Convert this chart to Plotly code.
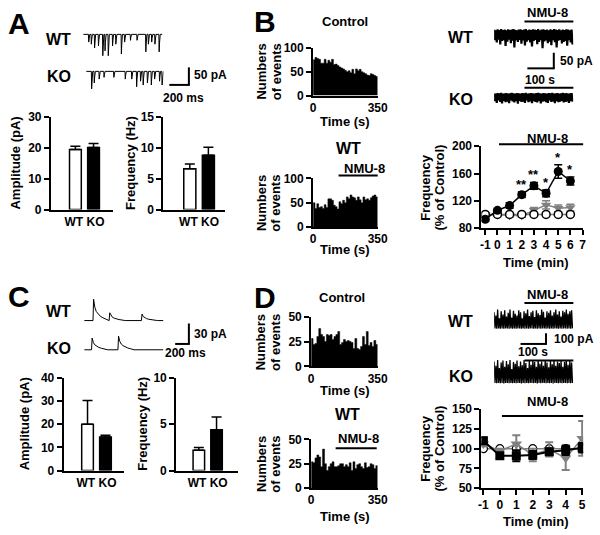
import plotly.graph_objects as go

W, H = 600, 535
FAM = "Liberation Sans, Arial, sans-serif"

# ---------------- data ----------------
bar_cats = ["WT", "KO"]
A_amp = [19.5, 20.1]
A_amp_err = [1.0, 1.3]
A_freq = [6.6, 8.8]
A_freq_err = [0.8, 1.3]
C_amp = [20.0, 14.5]
C_amp_err = [10.3, 0.8]
C_freq = [2.2, 4.4]
C_freq_err = [0.3, 1.4]

hist_t = [5, 15, 25, 35, 45, 55, 65, 75, 85, 95, 105, 115, 125, 135, 145, 155, 165, 175,
          185, 195, 205, 215, 225, 235, 245, 255, 265, 275, 285, 295, 305, 315, 325, 335, 345]
B_ctrl_hist = [75, 80, 78, 76, 68, 68, 76, 68, 74, 70, 76, 65, 66, 63, 60, 58, 56, 53, 50, 52,
               48, 55, 46, 56, 52, 55, 50, 48, 46, 43, 42, 46, 44, 42, 40]
B_wt_hist = [50, 38, 48, 40, 42, 38, 46, 40, 58, 58, 55, 45, 42, 37, 52, 48, 55, 50, 62, 58,
             66, 62, 60, 55, 62, 56, 50, 62, 56, 58, 55, 60, 64, 66, 62]
D_ctrl_hist = [28, 22, 23, 30, 38, 32, 30, 25, 32, 31, 32, 27, 30, 32, 35, 22, 24, 27, 25, 26,
               25, 24, 18, 28, 18, 17, 20, 30, 22, 35, 21, 24, 20, 26, 22]
D_wt_hist = [27, 26, 31, 34, 32, 22, 40, 25, 18, 22, 25, 27, 22, 22, 23, 25, 25, 22, 24, 22,
             26, 18, 27, 20, 24, 25, 22, 20, 26, 21, 22, 25, 24, 20, 23]

B_min = [-1, 0, 1, 2, 3, 4, 5, 6]
B_wt_nmu = [93, 106, 113, 129, 142, 131, 163, 149]
B_wt_nmu_err = [3, 2, 4, 4, 5, 5, 10, 6]
B_ctrl = [100, 100, 100, 100, 100, 100, 100, 100]
B_ko_nmu = [100, 99, 98, 98, 106, 114, 109, 110]
B_ko_nmu_err = [2, 2, 2, 2, 4, 6, 5, 5]
B_stars = ["", "", "", "**", "**", "*", "*", "*"]
B_xticks = [-1, 0, 1, 2, 3, 4, 5, 6, 7]

D_min = [-1, 0, 1, 2, 3, 4, 5]
D_wt_nmu = [110, 91, 91, 92, 96, 98, 101]
D_wt_nmu_err = [4, 3, 7, 5, 4, 6, 6]
D_ko_nmu = [106, 97, 106, 92, 99, 88, 113]
D_ko_nmu_err = [3, 3, 11, 8, 9, 15, 22]
D_ctrl = [100, 100, 100, 100, 100, 100, 100]
D_xticks = [-1, 0, 1, 2, 3, 4, 5]

# sample traces: event times (ms) and amplitudes (pA)
A_wt_ev_t = [53, 80, 113, 153, 197, 220, 253, 297, 330, 387, 420, 480, 547, 637, 663, 697, 730, 773]
A_wt_ev_a = [22, 28, 39, 33, 61, 47, 61, 33, 28, 56, 22, 17, 17, 50, 28, 22, 28, 50]
A_ko_ev_t = [53, 80, 130, 180, 280, 397, 463, 513, 553, 580, 623, 663, 697, 747, 773]
A_ko_ev_a = [50, 33, 22, 17, 17, 22, 22, 44, 28, 39, 33, 39, 22, 28, 39]
C_wt_ev_t = [120, 340, 780]
C_wt_ev_a = [33, 12, 10]
C_ko_ev_t = [100, 460]
C_ko_ev_a = [18, 21]
epsc_kernel = [0, 1.0, 0.62, 0.42, 0.3, 0.2, 0.13, 0.07, 0.0]
epsc_kernel_t = [0, 8, 25, 45, 70, 100, 135, 175, 220]

B_wt_lo = [-30, -38, -28, -45, -33, -30, -50, -35, -28, -40, -32, -55, -30, -36, -29, -42, -31, -48,
           -35, -30, -38, -52, -33, -29, -44, -36, -30, -58, -34, -31, -40, -35, -47, -30, -37, -55,
           -32, -29, -41, -36, -33, -49, -30, -38, -45]
B_wt_hi = [6, 4, 7, 5, 8, 5, 6, 4, 7, 5, 6, 8, 5, 4, 6, 7, 5, 6, 8, 4, 6, 5, 7, 6, 5, 8, 4, 6, 7, 5,
           6, 4, 7, 5, 8, 6, 5, 7, 4, 6, 5, 7, 6, 4, 6]
B_ko_lo = [-22, -28, -20, -25, -30, -21, -26, -24, -29, -20, -23, -27, -22, -31, -21, -25, -24, -28,
           -20, -26, -23, -29, -22, -25, -27, -21, -30, -24, -22, -26, -28, -20, -25, -23, -29, -22,
           -26, -24, -21, -27, -25, -23, -28, -22, -24]
B_ko_hi = [4, 3, 5, 4, 6, 3, 4, 5, 3, 4, 6, 4, 3, 5, 4, 3, 5, 4, 6, 3, 4, 5, 4, 3, 5, 6, 4, 3, 5, 4,
           3, 5, 4, 6, 3, 4, 5, 3, 4, 6, 4, 5, 3, 4, 5]
D_wt_hi = [150, 120, 175, 95, 160, 130, 170, 110, 145, 175, 100, 165, 135, 120, 170, 150, 95, 160,
           140, 175, 115, 150, 165, 105, 170, 140, 125, 175, 155, 100, 160, 145, 170, 120, 150, 175,
           130, 160, 110, 165, 150, 175, 135, 160, 170]
D_wt_lo = [0, -3, 0, -2, 0, -4, 0, -1, -3, 0, -2, 0, -3, 0, -1, -4, 0, -2, 0, -3, 0, -1, -2, 0, -4,
           0, -2, 0, -1, -3, 0, -2, 0, -4, 0, -1, -3, 0, -2, 0, -1, -3, 0, -2, 0]
D_ko_hi = [200, 160, 215, 140, 190, 210, 150, 205, 175, 215, 130, 195, 180, 210, 155, 200, 165, 215,
           185, 140, 205, 170, 210, 195, 150, 215, 180, 200, 160, 210, 190, 145, 205, 175, 215, 160,
           200, 185, 210, 150, 195, 215, 170, 205, 190]
D_ko_lo = [0, -3, 0, -2, 0, -4, 0, -1, -3, 0, -2, 0, -3, 0, -1, -4, 0, -2, 0, -3, 0, -1, -2, 0, -4,
           0, -2, 0, -1, -3, 0, -2, 0, -4, 0, -1, -3, 0, -2, 0, -1, -3, 0, -2, 0]

GRAY = "#808080"


def xdom(a, b):
    return [a / W, b / W]


def ydom(top, bot):
    return [1 - bot / H, 1 - top / H]


def px(x):
    return x / W


def py(y):
    return 1 - y / H


fig = go.Figure()
layout = {}


def axkey(n, k):
    return f"{k}axis" if n == 1 else f"{k}axis{n}"


def ref(n, k):
    return k if n == 1 else f"{k}{n}"


TF = dict(family=FAM, size=12, color="black", weight="bold")


def set_axes(n, xd, yd, xkw, ykw):
    layout[axkey(n, "x")] = dict(domain=xd, anchor=ref(n, "y"), **xkw)
    layout[axkey(n, "y")] = dict(domain=yd, anchor=ref(n, "x"), **ykw)


def yax(rng, tv):
    return dict(range=rng, tickvals=tv, showline=True, linecolor="black", linewidth=2,
                ticks="outside", ticklen=5, tickwidth=2, tickcolor="black", showgrid=False,
                zeroline=False, tickfont=TF, tickangle=0, fixedrange=True)


def hidden(rng):
    return dict(range=rng, visible=False, showgrid=False, zeroline=False, fixedrange=True)


def bar_panel(n, xd, yd, xr, yr, ytv, vals, errs):
    xkw = dict(range=xr, tickvals=[0.5], ticktext=[" ".join(bar_cats)], showline=True, linecolor="black",
               linewidth=2, ticks="", showgrid=False, zeroline=False, tickfont=TF, tickangle=0,
               fixedrange=True)
    set_axes(n, xd, yd, xkw, yax(yr, ytv))
    for i, col in enumerate(["white", "black"]):
        fig.add_trace(go.Bar(x=[i], y=[vals[i]], width=0.65,
                             marker=dict(color=col, line=dict(color="black", width=1.5)),
                             error_y=dict(type="data", symmetric=False, array=[errs[i]], arrayminus=[0],
                                          color="black", thickness=1.5, width=5),
                             xaxis=ref(n, "x"), yaxis=ref(n, "y")))


def hist_panel(n, xd, yd, yr, ytv, vals):
    xkw = dict(range=[0, 350], tickvals=[0, 350], showline=True, linecolor="black", linewidth=2,
               ticks="", showgrid=False, zeroline=False, tickfont=TF, tickangle=0, fixedrange=True)
    set_axes(n, xd, yd, xkw, yax(yr, ytv))
    edges = [t - 5 for t in hist_t] + [hist_t[-1] + 5]
    fig.add_trace(go.Scatter(x=edges, y=list(vals) + [vals[-1]], mode="lines", line_shape="hv",
                             line=dict(color="black", width=0.5), fill="tozeroy", fillcolor="black",
                             xaxis=ref(n, "x"), yaxis=ref(n, "y")))


def event_trace(n, xd, yd, xr, yr, ev_t, ev_a, sign, kernel_t, kernel):
    set_axes(n, xd, yd, hidden(xr), hidden(yr))
    xs, ys = [xr[0]], [0]
    for t, a in zip(ev_t, ev_a):
        for kt, kv in zip(kernel_t, kernel):
            xs.append(t + kt)
            ys.append(sign * a * kv)
    xs.append(xr[1])
    ys.append(0)
    fig.add_trace(go.Scatter(x=xs, y=ys, mode="lines", line=dict(color="black", width=1),
                             xaxis=ref(n, "x"), yaxis=ref(n, "y")))


def dense_trace(n, xd, yd, yr, hi, lo, lw):
    set_axes(n, xd, yd, hidden([0, len(hi)]), hidden(yr))
    xs, ys = [], []
    for i, (h, l) in enumerate(zip(hi, lo)):
        xs += [i, i + 0.5]
        ys += [h, l]
    fig.add_trace(go.Scatter(x=xs, y=ys, mode="lines", line=dict(color="black", width=lw),
                             xaxis=ref(n, "x"), yaxis=ref(n, "y")))


def line_panel(n, xd, yd, xr, xtv, yr, ytv):
    xkw = dict(range=xr, tickvals=xtv, ticktext=[str(v) for v in xtv], showline=True,
               linecolor="black", linewidth=2, ticks="outside", ticklen=5, tickwidth=2,
               tickcolor="black", showgrid=False, zeroline=False, tickfont=TF, tickangle=0,
               fixedrange=True)
    set_axes(n, xd, yd, xkw, yax(yr, ytv))


# ---- Panel A ----
bar_panel(1, xdom(49, 112), ydom(113, 208), [-1.35, 2.05], [0, 30], [0, 10, 20, 30], A_amp, A_amp_err)
bar_panel(2, xdom(164, 227), ydom(113, 208), [-1.42, 1.9], [0, 15], [0, 5, 10, 15], A_freq, A_freq_err)
# ---- Panel B histograms ----
hist_panel(3, xdom(317, 383), ydom(42, 91), [0, 100], [0, 50, 100], B_ctrl_hist)
hist_panel(4, xdom(317, 383), ydom(176, 226), [0, 100], [0, 50, 100], B_wt_hist)
# ---- Panel B line ----
line_panel(5, xdom(489, 593), ydom(143, 227), [-1.32, 7.05], B_xticks, [80, 200], [80, 120, 160, 200])
fig.add_trace(go.Scatter(x=B_min, y=B_ko_nmu, mode="lines+markers", line=dict(color=GRAY, width=1.5),
                         marker=dict(symbol="triangle-down", size=9, color=GRAY),
                         error_y=dict(type="data", array=B_ko_nmu_err, color=GRAY, thickness=1.5, width=4),
                         xaxis="x5", yaxis="y5"))
fig.add_trace(go.Scatter(x=B_min, y=B_ctrl, mode="lines+markers", line=dict(color=GRAY, width=1.5),
                         marker=dict(symbol="circle", size=8, color="white", line=dict(color="black", width=1.5)),
                         xaxis="x5", yaxis="y5"))
fig.add_trace(go.Scatter(x=B_min, y=B_wt_nmu, mode="lines+markers", line=dict(color="black", width=1.5),
                         marker=dict(symbol="circle", size=9, color="black"),
                         error_y=dict(type="data", array=B_wt_nmu_err, color="black", thickness=1.5, width=4),
                         xaxis="x5", yaxis="y5"))
# ---- Panel C ----
bar_panel(6, xdom(62, 124), ydom(381, 476), [-1.33, 2.05], [0, 40], [0, 10, 20, 30, 40], C_amp, C_amp_err)
bar_panel(7, xdom(177, 240), ydom(381, 476), [-1.28, 2.2], [0, 10], [0, 5, 10], C_freq, C_freq_err)
# ---- Panel D histograms ----
hist_panel(8, xdom(315, 383), ydom(318, 369), [0, 50], [0, 25, 50], D_ctrl_hist)
hist_panel(9, xdom(315, 383), ydom(444, 494), [0, 50], [0, 25, 50], D_wt_hist)
# ---- Panel D line ----
line_panel(10, xdom(489, 593), ydom(413, 494), [-1.12, 5.06], D_xticks, [50, 150], [50, 75, 100, 125, 150])
fig.add_trace(go.Scatter(x=D_min, y=D_ctrl, mode="lines+markers", line=dict(color=GRAY, width=1.5),
                         marker=dict(symbol="circle", size=8, color="white", line=dict(color="black", width=1.2)),
                         xaxis="x10", yaxis="y10"))
fig.add_trace(go.Scatter(x=D_min, y=D_ko_nmu, mode="lines+markers", line=dict(color=GRAY, width=1.5),
                         marker=dict(symbol="triangle-down", size=10, color=GRAY),
                         error_y=dict(type="data", array=D_ko_nmu_err, color=GRAY, thickness=2, width=4),
                         xaxis="x10", yaxis="y10"))
fig.add_trace(go.Scatter(x=D_min, y=D_wt_nmu, mode="lines+markers", line=dict(color="black", width=2),
                         marker=dict(symbol="square", size=9, color="black"),
                         error_y=dict(type="data", array=D_wt_nmu_err, color="black", thickness=2, width=4),
                         xaxis="x10", yaxis="y10"))

# ---- sample traces ----
spike_k = [0, 1.0, 0.5, 0.0]
spike_kt = [0, 3, 7, 14]
event_trace(11, xdom(82, 163), ydom(22, 54), [0, 810], [-72, 17], A_wt_ev_t, A_wt_ev_a, -1, spike_kt, spike_k)
event_trace(12, xdom(85, 164), ydom(60, 92), [0, 790], [-72, 17], A_ko_ev_t, A_ko_ev_a, -1, spike_kt, spike_k)
event_trace(13, xdom(83, 164), ydom(294, 326), [0, 1080], [-6, 42], C_wt_ev_t, C_wt_ev_a, 1, epsc_kernel_t, epsc_kernel)
event_trace(14, xdom(83, 164), ydom(333, 357), [0, 1080], [-7.5, 28.5], C_ko_ev_t, C_ko_ev_a, 1, epsc_kernel_t, epsc_kernel)
dense_trace(15, xdom(502, 583), ydom(20, 46), [-70, 17], B_wt_hi, B_wt_lo, 2.2)
dense_trace(16, xdom(502, 583), ydom(86, 102), [-40, 13], B_ko_hi, B_ko_lo, 2.2)
dense_trace(17, xdom(502, 583), ydom(308, 332), [-18, 200], D_wt_hi, D_wt_lo, 1.3)
dense_trace(18, xdom(502, 583), ydom(358, 388), [-18, 255], D_ko_hi, D_ko_lo, 1.3)

# ---- annotations ----
ann = []


def txt(x, y, s, size=13, xanchor="center", yanchor="middle", angle=0):
    ann.append(dict(x=px(x), y=py(y), xref="paper", yref="paper", text=s, showarrow=False,
                    xanchor=xanchor, yanchor=yanchor, textangle=angle,
                    font=dict(family=FAM, size=size, color="black", weight="bold")))


for L, x, y in [("A", 16, 17), ("B", 268, 15), ("C", 16, 297), ("D", 268, 298)]:
    txt(x, y, L, size=30)
for s, x, y in [("WT", 57, 33), ("KO", 57, 71), ("WT", 57, 313), ("KO", 57, 351),
                ("WT", 468, 31), ("KO", 468, 95), ("WT", 468, 323), ("KO", 468, 379),
                ("WT", 353, 145), ("WT", 352, 418)]:
    txt(x, y, s, size=16)
# scale labels
txt(193, 70, "50 pA", 12, xanchor="left")
txt(185, 93, "200 ms", 12)
txt(193, 336, "30 pA", 12, xanchor="left")
txt(187, 355, "200 ms", 12)
txt(567, 55, "50 pA", 12, xanchor="left")
txt(549, 75, "100 s", 12)
txt(561, 341, "100 pA", 12, xanchor="left")
txt(542, 354, "100 s", 12)
# titles
txt(350, 15, "Control", 13)
txt(347, 298, "Control", 13)
txt(370, 166, "NMU-8", 13)
txt(363, 443, "NMU-8", 13)
txt(557, 6, "NMU-8", 13)
txt(557, 295, "NMU-8", 13)
txt(557, 135, "NMU-8", 13)
txt(557, 405, "NMU-8", 13)
# axis titles
txt(13, 160, "Amplitude (pA)", 13, angle=-90)
txt(131, 160, "Frequency (Hz)", 13, angle=-90)
txt(22, 428, "Amplitude (pA)", 13, angle=-90)
txt(143, 428, "Frequency (Hz)", 13, angle=-90)
for yc in (66, 201, 344, 469):
    txt(264, yc, "Numbers", 13, angle=-90)
    txt(279, yc, "of events", 13, angle=-90)
for yc in (185, 453):
    txt(431, yc, "Frequency", 13, angle=-90)
    txt(446, yc, "(% of Control)", 13, angle=-90)
txt(350, 118, "Time (s)", 13)
txt(350, 249, "Time (s)", 13)
txt(350, 394, "Time (s)", 13)
txt(350, 523, "Time (s)", 13)
txt(545, 262, "Time (min)", 13)
txt(545, 528, "Time (min)", 13)
# significance stars
for xv, yv, e, s in zip(B_min, B_wt_nmu, B_wt_nmu_err, B_stars):
    if s:
        ann.append(dict(x=xv, y=yv + e, xref="x5", yref="y5", text=s, showarrow=False,
                        yanchor="bottom", yshift=-2,
                        font=dict(family=FAM, size=13, color="black", weight="bold")))

# ---- shapes (lines, scale bars) ----
shapes = []


def seg(x0, y0, x1, y1, w=2):
    shapes.append(dict(type="line", xref="paper", yref="paper", x0=px(x0), y0=py(y0), x1=px(x1), y1=py(y1),
                       line=dict(color="black", width=w)))


seg(343, 173, 383, 173)
seg(340, 453, 382, 453)
seg(533, 15, 583, 15)
seg(533, 83, 583, 83)
seg(533, 304, 583, 304)
seg(533, 363, 583, 363)
seg(507, 141, 593, 141)
seg(510, 420, 593, 420)
# scale bars
seg(190, 62, 190, 80); seg(170, 80, 191, 80)
seg(190, 325, 190, 346); seg(176, 346, 191, 346)
seg(563, 47, 563, 63); seg(536, 63, 564, 63)
seg(555, 335, 555, 346); seg(529, 346, 556, 346)

fig.update_layout(width=W, height=H, margin=dict(l=0, r=0, t=0, b=0), paper_bgcolor="white",
                  plot_bgcolor="white", showlegend=False, annotations=ann, shapes=shapes,
                  font=dict(family=FAM, size=12, color="black", weight="bold"), **layout)
fig.write_html("out.html", config={"displayModeBar": False},
               post_script="document.body.style.margin='0';document.body.style.overflow='hidden';")
